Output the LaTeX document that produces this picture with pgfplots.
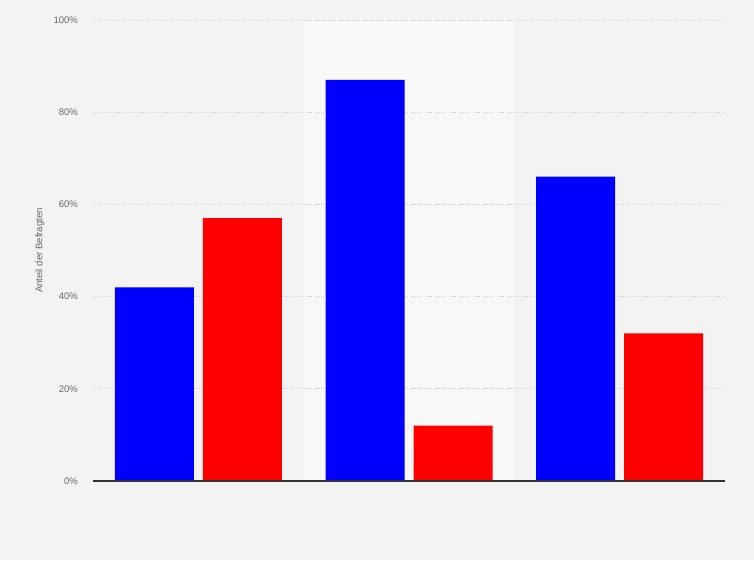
\documentclass[border=0pt]{standalone}
\usepackage{pgfplots}
\pgfplotsset{compat=1.18}
\usepackage{fontspec}
\setmainfont{Liberation Sans}
\definecolor{bgcol}{HTML}{F3F3F3}
\definecolor{bandcol}{HTML}{F8F8F8}
\definecolor{gridcol}{HTML}{D6D6D6}
\definecolor{labcol}{HTML}{666666}
\definecolor{axcol}{HTML}{333333}
\begin{document}
\begin{tikzpicture}[x=1pt,y=1pt]
\fill[bgcol] (0,0) rectangle (754,560);
\fill[bandcol] (303.67,79) rectangle (514.33,540);
\begin{axis}[
  at={(93pt,79pt)}, anchor=south west,
  scale only axis, width=632pt, height=461pt,
  xmin=-0.5, xmax=2.5, ymin=0, ymax=100,
  axis lines*=left,
  axis line style={draw=none},
  xtick=\empty,
  ytick={0,20,40,60,80,100},
  yticklabels={0\%,20\%,40\%,60\%,80\%,100\%},
  major tick length=0pt,
  ymajorgrids,
  grid style={gridcol, dotted, line width=0.8pt},
  yticklabel style={font=\fontsize{9.5}{11}\selectfont, text=labcol, inner sep=0pt, xshift=-15pt},
  ylabel={Anteil der Befragten},
  every axis y label/.style={at={(axis description cs:0,0.5)}, xshift=-53pt, rotate=90, anchor=center, font=\fontsize{9.6}{11}\selectfont, text=labcol},
  clip=false,
]
\addplot[ybar, bar width=79pt, bar shift=-44pt, fill=blue, draw=none] coordinates {(0,42) (1,87) (2,66)};
\addplot[ybar, bar width=79pt, bar shift=44pt, fill=red, draw=none] coordinates {(0,57) (1,12) (2,32)};
\draw[axcol, line width=1.1pt] (axis cs:-0.5,0) -- (axis cs:2.5,0);
\end{axis}
\pgfresetboundingbox
\useasboundingbox (0,0) rectangle (754,560);
\end{tikzpicture}
\end{document}
